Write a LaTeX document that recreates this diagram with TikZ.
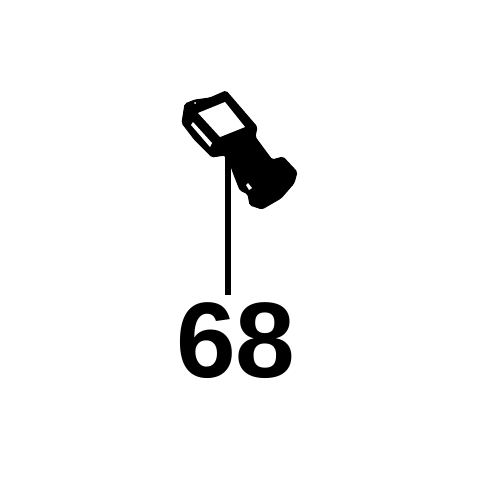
\documentclass[tikz,border=0pt]{standalone}
\usepackage{fontspec}
\setmainfont{Liberation Sans}
\begin{document}
\begin{tikzpicture}[x=0.01cm, y=-0.01cm]
    \tikzset{partfill/.style={fill=black, draw=black, line width=0.3pt, rounded corners=0.5pt},
        partgap/.style={fill=white},
        leader/.style={draw=black, line width=1.7pt}}
    \useasboundingbox (0, 0) rectangle (500, 500);

    % part body
    \path[partfill] (185, 104) -- (195, 100) -- (210, 98) -- (226, 91) -- (257, 127) -- (255, 137)
        -- (272, 160) -- (283, 157) -- (297, 172) -- (294, 183) -- (281, 198)
        -- (262, 209) -- (250, 205) -- (248, 194) -- (240, 190) -- (233, 172) -- (231, 166)
        -- (225, 155) -- (212, 157) -- (195, 140) -- (182, 123) -- cycle;
    \path[partgap] (198, 113) -- (225, 102) -- (245, 127) -- (220, 137) -- cycle;
    \path[partgap] (193, 122) -- (212, 143) -- (210, 147) -- (191, 125) -- cycle;
    \path[partgap] (248, 183) -- (252, 188) -- (249, 190) -- (246, 185) -- cycle;
    \path[partgap] (195, 103) circle (1);

    \draw (236, 377) node[anchor=base, inner sep=0pt, font=\fontsize{30.5}{30.5}\bfseries](num68){68};
    \coordinate (part68) at (228, 155);
    \coordinate (end68) at (228, 295);

    \draw[leader] (part68) -- (end68);
\end{tikzpicture}
\end{document}
